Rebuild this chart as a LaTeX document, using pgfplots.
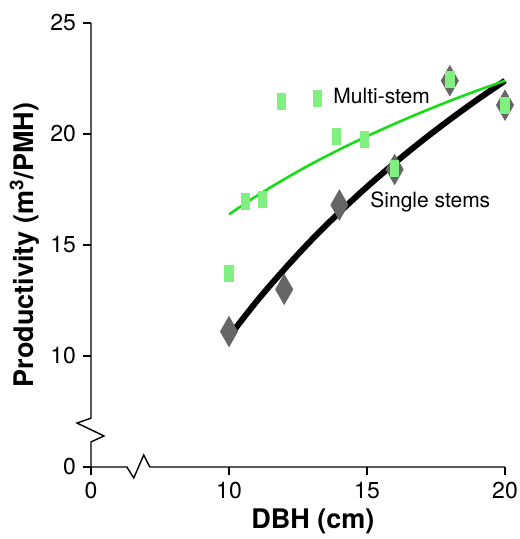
\documentclass[border=0pt]{standalone}
\usepackage{fontspec}
\setmainfont{TeX Gyre Heros}
\usepackage{pgfplots}
\pgfplotsset{compat=1.18}
\usepackage{pgfplotstable}

\definecolor{diam}{HTML}{666666}
\definecolor{sq}{HTML}{80F080}
\definecolor{fitgreen}{HTML}{18DC18}

% observed points (DBH cm, m3/PMH)
\pgfplotstableread{
x y
10 11.1
12 13.0
14 16.8
16 18.4
18 22.4
20 21.3
}\single
\pgfplotstableread{
x y
10 13.7
10.6 16.95
11.2 17.05
11.9 21.45
13.2 21.6
13.9 19.9
14.9 19.75
16 18.45
18 22.45
20 21.3
}\multi
% fitted curves
\pgfplotstableread{
x y
10 10.87
11 12.46
12 13.90
13 15.24
14 16.47
15 17.62
16 18.69
17 19.70
18 20.65
19 21.55
20 22.40
}\singlefit
\pgfplotstableread{
x y
10 16.38
11 17.21
12 17.96
13 18.66
14 19.30
15 19.90
16 20.46
17 20.99
18 21.49
19 21.96
20 22.40
}\multifit

\begin{document}
\begin{tikzpicture}
\path[use as bounding box] (-45.5pt,-36pt) rectangle (214pt,233.5pt);
\begin{axis}[
  at={(0,0)}, anchor=south west,
  scale only axis,
  width=207pt, height=222pt,
  xmin=0, xmax=15, ymin=0, ymax=20,
  axis lines*=left,
  axis line style={draw=none},
  tick align=outside,
  major tick length=4pt,
  tick style={black, line width=0.7pt},
  xtick={0,5,10,15}, xticklabels={0,10,15,20},
  ytick={0,5,10,15,20}, yticklabels={0,10,15,20,25},
  ticklabel style={font=\fontsize{11.5}{13}\selectfont},
  clip=false,
  xlabel={DBH (cm)},
  ylabel={Productivity (m\textsuperscript{3}/PMH)},
  every axis x label/.style={at={(axis description cs:0.536,-0.122)}, anchor=center,
    font=\bfseries\fontsize{13.5}{15}\selectfont},
  every axis y label/.style={at={(axis description cs:-0.16,0.5)}, rotate=90, anchor=center,
    font=\bfseries\fontsize{13.5}{15}\selectfont},
]
% broken axes
\draw[line width=0.7pt] (axis cs:0,0) -- (axis cs:0,1.13) -- ([xshift=6.5pt]axis cs:0,1.4)
  -- ([xshift=-7pt]axis cs:0,1.98) -- (axis cs:0,2.2) -- (axis cs:0,20);
\draw[line width=0.7pt] (axis cs:0,0) -- (axis cs:1.3,0) -- ([yshift=-5.5pt]axis cs:1.55,0)
  -- ([yshift=6pt]axis cs:1.91,0) -- (axis cs:2.13,0) -- (axis cs:15,0);

\addplot[diam, only marks, mark=diamond*, mark size=7.5pt,
  mark options={xscale=0.76, fill=diam, draw=diam}]
  table[x expr=\thisrow{x}-5, y expr=\thisrow{y}-5]{\single};
\addplot[black, line width=3pt, smooth, no marks]
  table[x expr=\thisrow{x}-5, y expr=\thisrow{y}-5]{\singlefit};
\addplot[fitgreen, line width=1.3pt, smooth, no marks]
  table[x expr=\thisrow{x}-5, y expr=\thisrow{y}-5]{\multifit};
\addplot[sq, only marks, mark=square*, mark size=4pt,
  mark options={xscale=0.52, fill=sq, draw=sq}]
  table[x expr=\thisrow{x}-5, y expr=\thisrow{y}-5]{\multi};

\node[anchor=west, inner sep=0pt, font=\fontsize{10.5}{12}\selectfont] at (axis cs:8.77,16.71) {Multi-stem};
\node[anchor=west, inner sep=0pt, font=\fontsize{10.5}{12}\selectfont] at (axis cs:10.11,11.94) {Single stems};
\end{axis}
\end{tikzpicture}
\end{document}
